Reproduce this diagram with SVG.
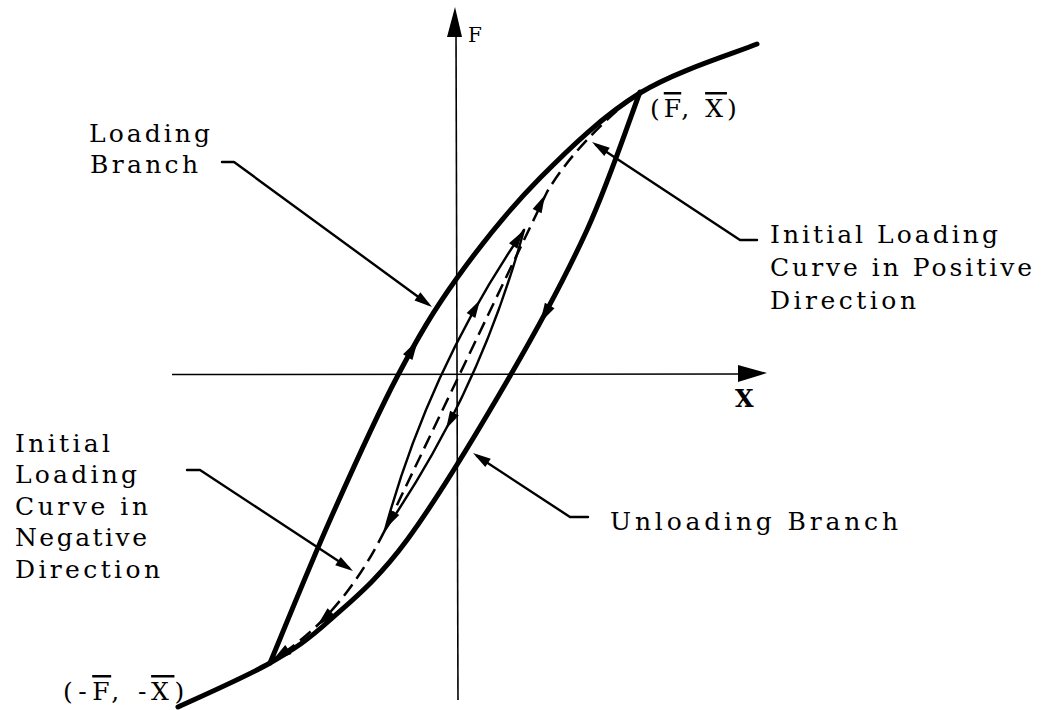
<svg xmlns="http://www.w3.org/2000/svg" xmlns:xlink="http://www.w3.org/1999/xlink" width="1060" height="710" viewBox="0 0 1060 710">
<style>
.thick{fill:none;stroke:#000;stroke-width:5;stroke-linecap:round;stroke-linejoin:round}
.thin{fill:none;stroke:#000;stroke-width:2.4;stroke-linecap:round}
.dash{fill:none;stroke:#000;stroke-width:2.5;stroke-dasharray:14 7}
.axis{fill:none;stroke:#000;stroke-width:1.6}
.leader{fill:none;stroke:#000;stroke-width:2.4;stroke-linejoin:round;stroke-linecap:round}
.lbl{font-family:"DejaVu Serif","Liberation Serif",serif;font-size:25px;fill:#000}
.ov{text-decoration:overline}
</style>
<defs>
<path id="ah" d="M0,0 L-20,-5.5 L-20,5.5 Z" fill="#000"/>
<path id="ahs" d="M0,0 L-18,-5 L-18,5 Z" fill="#000"/>
</defs>
<rect width="1060" height="710" fill="#fff"/>

<g id="axes">
<line class="axis" x1="456" y1="30" x2="458" y2="700"/>
<polygon points="455,7 447,37 462,37" fill="#000"/>
<line class="axis" x1="172" y1="374.5" x2="745" y2="374"/>
<polygon points="767,373 738,365 738,382" fill="#000"/>
</g>

<g id="curves">
<path id="unloading-branch" class="thick" d="M640,92 C631.2,115 608.7,182.7 587,230 C565.3,277.3 540,324.3 510,376 C480,427.7 437,499.3 407,540 C377,580.7 352.8,599.5 330,620 C307.2,640.5 295.3,648.5 270,663 C244.7,677.5 193.3,699.7 178,707"/>
<path id="loading-branch" class="thick" d="M270,663 C280,639.2 308.8,567.7 330,520 C351.2,472.3 375.8,417.3 397,377 C418.2,336.7 433.2,311.2 457,278 C480.8,244.8 509.5,208.8 540,178 C570.5,147.2 603.8,115.3 640,93 C676.2,70.7 737.5,52.2 757,44"/>
<path id="initial-loading" class="dash" d="M633,97 Q575,145 547,192 L385,530 Q340,620 272,660"/>
<path id="inner-left" class="thin" d="M385,530 Q429,368 524,230"/>
<path id="inner-right" class="thin" d="M524,230 Q480,392 385,530"/>
<use xlink:href="#ah" transform="translate(418,340) rotate(-59)"/>
<use xlink:href="#ah" transform="translate(540,323) rotate(119)"/>
<use xlink:href="#ah" transform="translate(272,661) rotate(145)"/>
<use xlink:href="#ah" transform="translate(317,626) rotate(136)"/>
<use xlink:href="#ahs" transform="translate(523,231) rotate(-57)"/>
<use xlink:href="#ahs" transform="translate(480,300) rotate(-60)"/>
<use xlink:href="#ahs" transform="translate(446,429) rotate(118)"/>
<use xlink:href="#ahs" transform="translate(386,528) rotate(120)"/>
<use xlink:href="#ahs" transform="translate(545,195) rotate(-64)"/>
</g>

<g id="connectors">
<path class="leader" d="M222,162 L234,162 L428,304"/>
<use xlink:href="#ahs" transform="translate(432,307) rotate(36)"/>
<path class="leader" d="M757,240 L740,240 L596,145"/>
<use xlink:href="#ahs" transform="translate(592,142) rotate(213.5)"/>
<path class="leader" d="M588,517 L570,517 L477,456"/>
<use xlink:href="#ahs" transform="translate(473,453) rotate(213.4)"/>
<path class="leader" d="M187,470 L200,470 L349,568"/>
<use xlink:href="#ahs" transform="translate(353,571) rotate(33.4)"/>
</g>

<g id="label-F"><text class="lbl" x="468" y="42" style="font-size:20px">F</text></g>
<g id="label-X"><text class="lbl" x="735" y="407" style="font-weight:bold;font-size:24px">X</text></g>
<g id="label-FX"><text class="lbl" x="650" y="117" letter-spacing="4"><tspan>(</tspan><tspan class="ov">F</tspan><tspan>, </tspan><tspan class="ov">X</tspan><tspan>)</tspan></text></g>
<g id="label-negFX"><text class="lbl" x="63" y="700" letter-spacing="5.5"><tspan>(-</tspan><tspan class="ov">F</tspan><tspan>, -</tspan><tspan class="ov">X</tspan><tspan>)</tspan></text></g>

<g id="label-loading-branch">
<text class="lbl" x="89" y="142" textLength="121" lengthAdjust="spacing">Loading</text>
<text class="lbl" x="90" y="173" textLength="108" lengthAdjust="spacing">Branch</text>
</g>
<g id="label-initial-positive">
<text class="lbl" x="770" y="243" textLength="228" lengthAdjust="spacing">Initial Loading</text>
<text class="lbl" x="770" y="276" textLength="262" lengthAdjust="spacing">Curve in Positive</text>
<text class="lbl" x="770" y="309" textLength="146" lengthAdjust="spacing">Direction</text>
</g>
<g id="label-unloading-branch">
<text class="lbl" x="610" y="530" textLength="288" lengthAdjust="spacing">Unloading Branch</text>
</g>
<g id="label-initial-negative">
<text class="lbl" x="15" y="452" textLength="95" lengthAdjust="spacing">Initial</text>
<text class="lbl" x="15" y="483" textLength="122" lengthAdjust="spacing">Loading</text>
<text class="lbl" x="15" y="515" textLength="133" lengthAdjust="spacing">Curve in</text>
<text class="lbl" x="15" y="546" textLength="132" lengthAdjust="spacing">Negative</text>
<text class="lbl" x="15" y="578" textLength="145" lengthAdjust="spacing">Direction</text>
</g>
</svg>
